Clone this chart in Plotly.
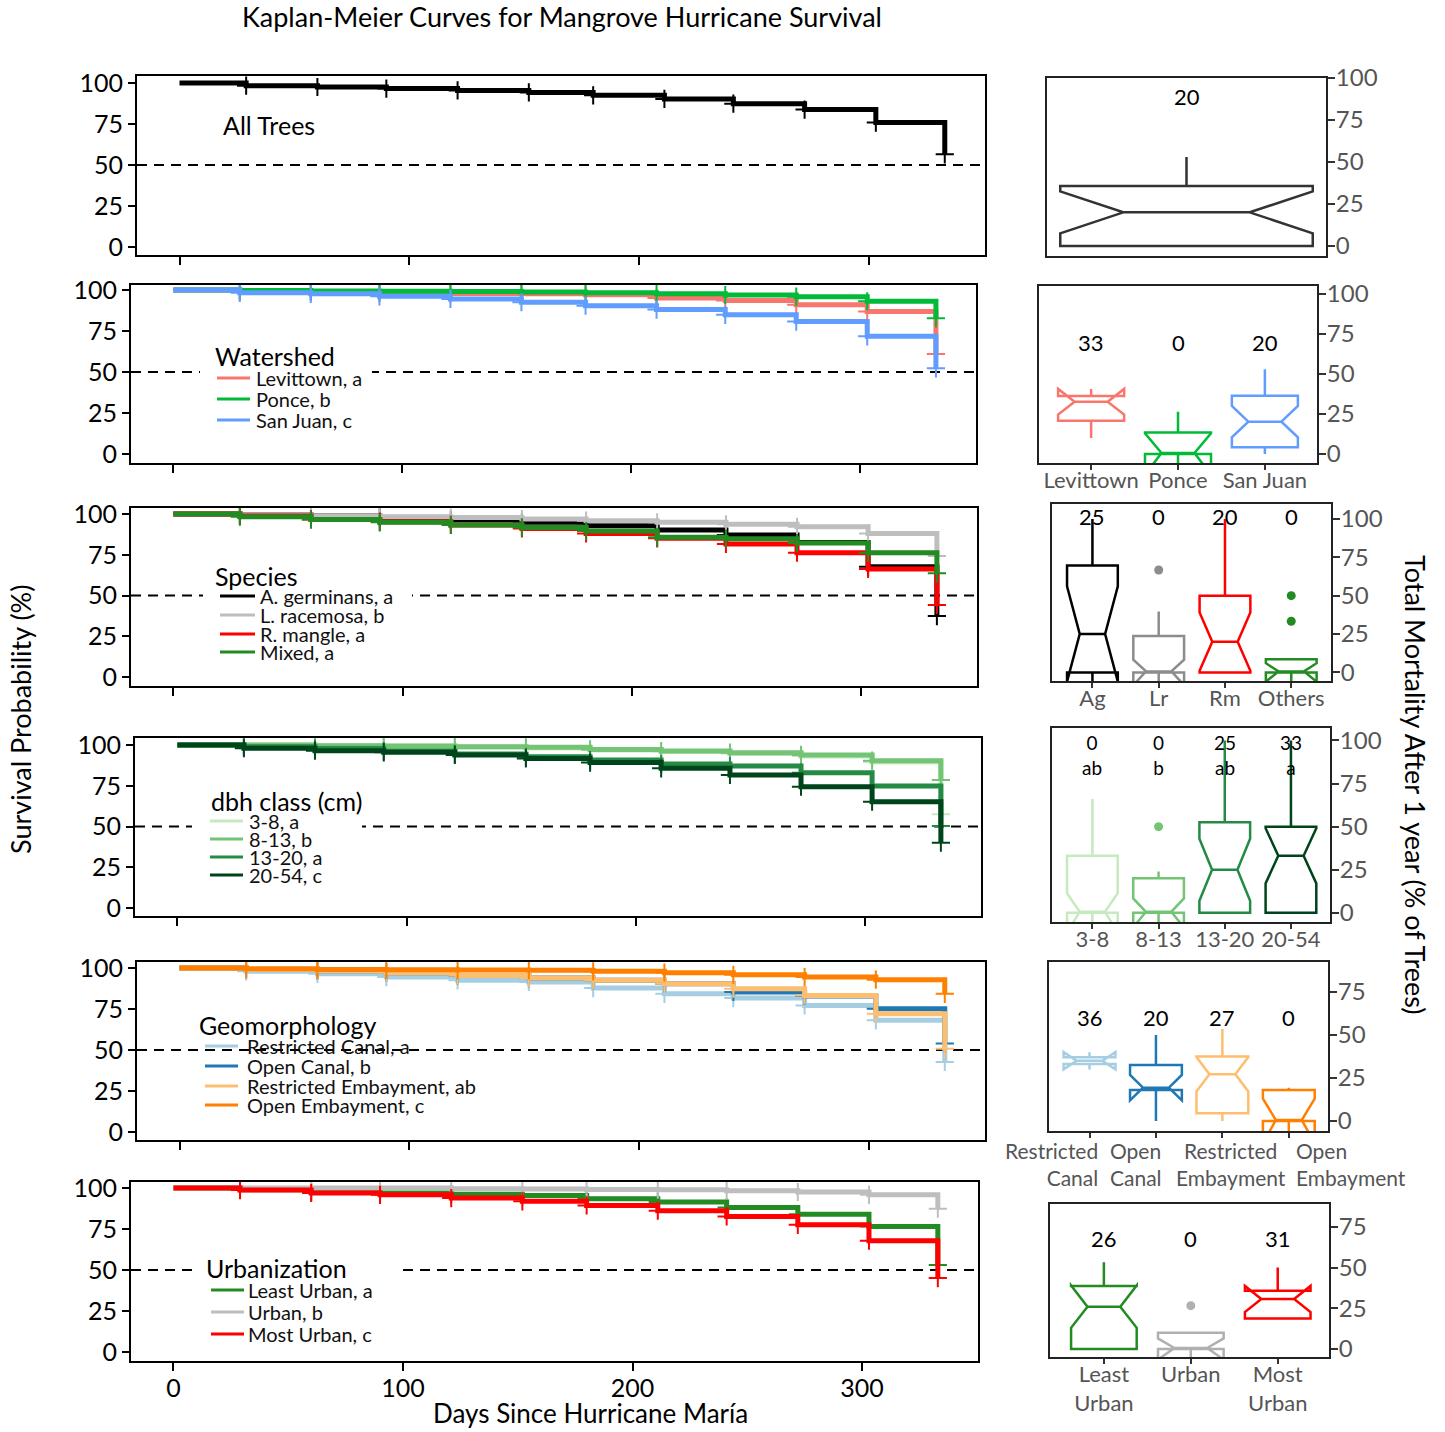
import plotly.graph_objects as go

W, H = 1445, 1432
FONT = "Lato"

# ---------------- Kaplan-Meier data ----------------
days = [0, 29, 60, 90, 121, 152, 180, 211, 241, 272, 303, 333]

all_names = ["All Trees"]
all_colors = ["#000000"]
all_surv = [[100, 98.4, 97.6, 96.6, 95.5, 94.3, 92.5, 90.3, 87.4, 83.8, 75.9, 56.5]]

ws_title = "Watershed"
ws_names = ["Levittown, a", "Ponce, b", "San Juan, c"]
ws_colors = ["#F8766D", "#00BA38", "#619CFF"]
ws_surv = [
    [100, 99.0, 98.6, 98.2, 97.8, 97.6, 97.0, 95.1, 93.5, 90.9, 86.8, 61.0],
    [100, 99.6, 99.4, 99.2, 99.0, 98.8, 98.2, 97.6, 96.9, 95.9, 93.1, 82.7],
    [100, 98.2, 97.6, 96.1, 94.5, 92.5, 90.4, 88.0, 84.8, 80.7, 71.7, 52.2],
]

sp_title = "Species"
sp_names = ["A. germinans, a", "L. racemosa, b", "R. mangle, a", "Mixed, a"]
sp_colors = ["#000000", "#BEBEBE", "#FF0000", "#228B22"]
sp_surv = [
    [100, 99.6, 99.0, 97.9, 96.3, 94.9, 92.8, 90.2, 87.1, 82.6, 67.7, 37.4],
    [100, 99.6, 99.0, 98.4, 97.8, 96.9, 95.9, 94.9, 93.7, 92.2, 88.1, 74.2],
    [100, 98.8, 96.7, 95.3, 93.3, 91.2, 88.1, 85.1, 81.6, 76.3, 66.3, 44.2],
    [100, 98.4, 96.7, 94.9, 93.3, 91.8, 89.6, 85.7, 84.9, 82.2, 76.3, 63.6],
]

dbh_title = "dbh class (cm)"
dbh_names = ["3-8, a", "8-13, b", "13-20, a", "20-54, c"]
dbh_colors = ["#C7E9C0", "#74C476", "#238B45", "#00441B"]
dbh_surv = [
    [100, 100, 99.6, 99.2, 98.8, 98.2, 97.0, 96.0, 94.8, 93.2, 89.5, 57.5],
    [100, 100, 99.6, 99.4, 99.0, 98.6, 97.3, 96.3, 95.3, 93.9, 90.4, 78.5],
    [100, 99.0, 97.8, 96.3, 94.5, 92.8, 90.8, 88.3, 87.1, 83.0, 74.8, 50.3],
    [100, 98.0, 96.5, 95.5, 93.9, 91.8, 89.2, 85.7, 81.6, 74.4, 65.2, 40.1],
]

geo_title = "Geomorphology"
geo_names = ["Restricted Canal, a", "Open Canal, b", "Restricted Embayment, ab", "Open Embayment, c"]
geo_colors = ["#A6CEE3", "#1F78B4", "#FDBF6F", "#FF7F00"]
geo_surv = [
    [100, 98.0, 96.5, 94.5, 92.5, 91.5, 87.8, 84.3, 81.7, 77.2, 68.1, 42.7],
    [100, 99.2, 98.4, 97.2, 95.5, 93.9, 92.5, 90.4, 85.4, 83.0, 75.2, 53.9],
    [100, 99.2, 98.4, 97.2, 95.5, 93.9, 92.5, 90.4, 87.4, 83.3, 72.2, 50.8],
    [100, 99.6, 99.2, 99.0, 98.8, 98.6, 98.0, 97.2, 95.9, 94.5, 92.9, 84.3],
]

urb_title = "Urbanization"
urb_names = ["Least Urban, a", "Urban, b", "Most Urban, c"]
urb_colors = ["#228B22", "#BEBEBE", "#FF0000"]
urb_surv = [
    [100, 99.0, 97.6, 97.0, 96.3, 95.5, 93.5, 91.5, 88.2, 84.1, 76.6, 53.0],
    [100, 100, 100, 100, 99.6, 99.4, 99.2, 99.0, 98.4, 97.6, 95.9, 87.4],
    [100, 98.8, 97.0, 95.9, 93.9, 91.9, 89.4, 86.2, 82.7, 77.6, 67.9, 45.1],
]

# ---------------- Box-plot data (total mortality after 1 year, %) ----------------
allb_cats = ["All"]
allb_colors = ["#333333"]
allb_q1, allb_med, allb_q3 = [0], [20], [35.7]
allb_lo, allb_hi, allb_notch = [0], [53], [12.5]
allb_pct = ["20"]
allb_out = [[]]

wsb_cats = ["Levittown", "Ponce", "San Juan"]
wsb_colors = ["#F8766D", "#00BA38", "#619CFF"]
wsb_q1, wsb_med, wsb_q3 = [20.8, 0, 4.2], [32.7, 0, 20.2], [36.3, 13.5, 36.4]
wsb_lo, wsb_hi, wsb_notch = [10, 0, 0], [39, 26.4, 53], [8, 13, 9.8]
wsb_pct = ["33", "0", "20"]
wsb_out = [[], [], []]

spb_cats = ["Ag", "Lr", "Rm", "Others"]
spb_colors = ["#000000", "#8C8C8C", "#FF0000", "#228B22"]
spb_q1, spb_med, spb_q3 = [0, 0, 0, 0], [25, 0, 20, 0], [69.7, 23.7, 50, 8.5]
spb_lo, spb_hi, spb_notch = [0, 0, 0, 0], [100, 39.6, 100, 8.5], [31, 8.3, 19, 6]
spb_pct = ["25", "0", "20", "0"]
spb_out = [[], [66.7], [], [50, 33.3]]

dbhb_cats = ["3-8", "8-13", "13-20", "20-54"]
dbhb_colors = ["#C7E9C0", "#74C476", "#238B45", "#00441B"]
dbhb_q1, dbhb_med, dbhb_q3 = [0, 0, 0, 0], [0, 0, 25, 33.1], [33.1, 20, 52.6, 50]
dbhb_lo, dbhb_hi, dbhb_notch = [0, 0, 0, 0], [66, 24, 100, 100], [11.4, 8.4, 18, 16]
dbhb_pct = ["0", "0", "25", "33"]
dbhb_sig = ["ab", "b", "ab", "a"]
dbhb_out = [[], [50], [], []]

geob_cats = ["Restricted<br>Canal", "Open<br>Canal", "Restricted<br>Embayment", "Open<br>Embayment"]
geob_colors = ["#A6CEE3", "#1F78B4", "#FDBF6F", "#FF7F00"]
geob_q1, geob_med, geob_q3 = [33.2, 18, 4.5, 0], [35, 19.4, 27.2, 0], [37.1, 32.6, 37.5, 18]
geob_lo, geob_hi, geob_notch = [30.7, 0, 0, 0], [39, 50, 53.4, 19.4], [5, 7.4, 10, 13]
geob_pct = ["36", "20", "27", "0"]
geob_out = [[], [], [], []]

urbb_cats = ["Least<br>Urban", "Urban", "Most<br>Urban"]
urbb_colors = ["#228B22", "#B0B0B0", "#FF0000"]
urbb_q1, urbb_med, urbb_q3 = [0, 0, 18.8], [26, 0, 30.7], [38.7, 10, 35.8]
urbb_lo, urbb_hi, urbb_notch = [0, 0, 18.8], [53.2, 10, 50], [13, 6.5, 8]
urbb_pct = ["26", "0", "31"]
urbb_out = [[], [26.6], []]

# ---------------- layout geometry (pixels) ----------------
km_frames = [(137, 985, 76, 255), (131, 976, 285, 463), (131, 977, 508, 686),
             (135, 981, 738, 916), (137, 985, 962, 1140), (131, 978, 1182, 1361)]
km_yranges = [[-4.9, 104.3], [-5.5, 103], [-5.5, 103.7], [-4.9, 104.3], [-4.9, 103.7], [-5.5, 103.7]]
km_xrange = [-18.5, 350.5]

box_frames = [(1047, 1326, 78, 256), (1039, 1317, 286, 463), (1052, 1331, 504, 681),
              (1052, 1330, 728, 922), (1049, 1328, 962, 1131), (1050, 1329, 1204, 1357)]
box_yranges = [[-6, 100], [-5.6, 105], [-5.6, 109.7], [-5.3, 107.2], [-5.8, 92.4], [-4.9, 89]]
box_xranges = [[-0.5, 0.5], [-0.6, 2.6], [-0.61, 3.6], [-0.61, 3.59], [-0.61, 3.59], [-0.62, 2.59]]
box_widths = [0.905, 0.76, 0.766, 0.766, 0.78, 0.755]
box_label_y = [89, 70, 101.7, 91.5, 60, 68]
# geomorphology category labels are staggered like the reference (x px, anchor)
geo_label_pos = [(1100, "right"), (1108, "left"), (1231, "center"), (1294, "left")]
geo_label_y = 1164

legend_specs = [
    None,
    dict(tx=213, ty=356, iy=[378, 399, 420], lx=(217, 250), txt=254, bg=(200, 372)),
    dict(tx=213, ty=576, iy=[596, 615, 634, 652], lx=(220, 255), txt=258, bg=(203, 412)),
    dict(tx=209, ty=801, iy=[821, 839, 857, 875], lx=(210, 243), txt=247, bg=(192, 362)),
    dict(tx=197, ty=1025, iy=[1046, 1066, 1086, 1105], lx=(205, 238), txt=245, bg=None),
    dict(tx=204, ty=1268, iy=[1290, 1312, 1334], lx=(211, 244), txt=246, bg=(194, 397)),
]


def px(x):
    return x / W


def py(y):
    return 1 - y / H


km_groups = [
    (None, all_names, all_colors, all_surv),
    (ws_title, ws_names, ws_colors, ws_surv),
    (sp_title, sp_names, sp_colors, sp_surv),
    (dbh_title, dbh_names, dbh_colors, dbh_surv),
    (geo_title, geo_names, geo_colors, geo_surv),
    (urb_title, urb_names, urb_colors, urb_surv),
]

box_groups = [
    (allb_cats, allb_colors, allb_q1, allb_med, allb_q3, allb_lo, allb_hi, allb_notch, allb_pct, None, allb_out),
    (wsb_cats, wsb_colors, wsb_q1, wsb_med, wsb_q3, wsb_lo, wsb_hi, wsb_notch, wsb_pct, None, wsb_out),
    (spb_cats, spb_colors, spb_q1, spb_med, spb_q3, spb_lo, spb_hi, spb_notch, spb_pct, None, spb_out),
    (dbhb_cats, dbhb_colors, dbhb_q1, dbhb_med, dbhb_q3, dbhb_lo, dbhb_hi, dbhb_notch, dbhb_pct, dbhb_sig, dbhb_out),
    (geob_cats, geob_colors, geob_q1, geob_med, geob_q3, geob_lo, geob_hi, geob_notch, geob_pct, None, geob_out),
    (urbb_cats, urbb_colors, urbb_q1, urbb_med, urbb_q3, urbb_lo, urbb_hi, urbb_notch, urbb_pct, None, urbb_out),
]

fig = go.Figure()
layout = dict(
    width=W, height=H, margin=dict(l=0, r=0, t=0, b=0, pad=0, autoexpand=False),
    paper_bgcolor="white", plot_bgcolor="white", showlegend=False,
    font=dict(family=FONT, color="black"),
)
shapes = []
annotations = []


def ann(text, x, y, size, color="black", xanchor="center", yanchor="middle", **kw):
    d = dict(text=text, xref="paper", yref="paper", x=px(x), y=py(y), showarrow=False,
             xanchor=xanchor, yanchor=yanchor, font=dict(size=size, color=color, family=FONT))
    d.update(kw)
    return d


# ---------------- Kaplan-Meier panels ----------------
for i, (title, names, colors, surv) in enumerate(km_groups):
    k = i + 1
    xs = "x" if k == 1 else f"x{k}"
    ys = "y" if k == 1 else f"y{k}"
    xk = "xaxis" if k == 1 else f"xaxis{k}"
    yk = "yaxis" if k == 1 else f"yaxis{k}"
    l, r, t, b = km_frames[i]
    layout[xk] = dict(
        domain=[px(l), px(r)], range=km_xrange, anchor=ys, automargin=False,
        tickvals=[0, 100, 200, 300], ticks="outside", ticklen=8, tickwidth=2,
        tickcolor="black", showline=True, linewidth=2, linecolor="black", mirror=True,
        showgrid=False, zeroline=False, showticklabels=(k == 6), ticklabelstandoff=-4,
        tickfont=dict(size=25, color="black", family=FONT),
    )
    layout[yk] = dict(
        domain=[py(b), py(t)], range=km_yranges[i], anchor=xs, automargin=False,
        tickvals=[0, 25, 50, 75, 100], ticks="outside", ticklen=7, tickwidth=2,
        tickcolor="black", showline=True, linewidth=2, linecolor="black", mirror=True,
        showgrid=False, zeroline=False,
        tickfont=dict(size=25, color="black", family=FONT),
    )
    # 50% reference line
    shapes.append(dict(type="line", xref=f"{xs} domain", yref=ys, x0=0, x1=1, y0=50, y1=50,
                       line=dict(color="black", width=2, dash="10px,7px"), layer="below"))
    for name, c, s in zip(names, colors, surv):
        fig.add_trace(go.Scatter(x=days, y=s, mode="lines", name=name,
                                 line=dict(color=c, width=5, shape="hv"),
                                 xaxis=xs, yaxis=ys, hoverinfo="skip"))
        fig.add_trace(go.Scatter(x=days[1:], y=s[1:], mode="markers", name=name,
                                 marker=dict(symbol="cross-thin", size=13, color=c,
                                             line=dict(color=c, width=2)),
                                 xaxis=xs, yaxis=ys, hoverinfo="skip"))
    spec = legend_specs[i]
    if spec is None:
        annotations.append(ann(names[0], 269, 125, 25))
        continue
    if spec["bg"] is not None:
        shapes.append(dict(type="rect", xref="paper", yref="paper",
                           x0=px(spec["bg"][0]), x1=px(spec["bg"][1]),
                           y0=py(spec["iy"][-1] + 10), y1=py(spec["ty"] - 14),
                           fillcolor="white", line=dict(width=0), layer="above"))
    annotations.append(ann(title, spec["tx"], spec["ty"], 25, xanchor="left"))
    for name, c, yy in zip(names, colors, spec["iy"]):
        shapes.append(dict(type="line", xref="paper", yref="paper",
                           x0=px(spec["lx"][0]), x1=px(spec["lx"][1]), y0=py(yy), y1=py(yy),
                           line=dict(color=c, width=3), layer="above"))
        annotations.append(ann(name, spec["txt"], yy, 20, color="#111111", xanchor="left"))

# ---------------- Box-plot panels ----------------
for i, (cats, colors, q1, med, q3, lo, hi, notch, pct, sig, outs) in enumerate(box_groups):
    k = i + 7
    xs, ys = f"x{k}", f"y{k}"
    l, r, t, b = box_frames[i]
    layout[f"xaxis{k}"] = dict(
        domain=[px(l), px(r)], range=box_xranges[i], anchor=ys, type="category", automargin=False,
        categoryorder="array", categoryarray=cats, tickangle=0,
        ticks="outside" if i > 0 else "", ticklen=5, tickwidth=2, tickcolor="#333333",
        showticklabels=(i > 0 and i != 4), ticklabelstandoff=-8,
        showline=True, linewidth=2, linecolor="#222222", mirror=True,
        showgrid=False, zeroline=False,
        tickfont=dict(size=22, color="#555555", family=FONT),
    )
    yt = [0, 25, 50, 75, 100] if box_yranges[i][1] >= 100 else [0, 25, 50, 75]
    layout[f"yaxis{k}"] = dict(
        domain=[py(b), py(t)], range=box_yranges[i], anchor=xs, side="right", automargin=False,
        tickvals=yt, ticks="outside", ticklen=7, tickwidth=2, tickcolor="#333333",
        showline=True, linewidth=2, linecolor="#222222", mirror=True,
        showgrid=False, zeroline=False, ticklabelstandoff=-4,
        tickfont=dict(size=24, color="#555555", family=FONT),
    )
    for j, cat in enumerate(cats):
        fig.add_trace(go.Box(
            x=[cat], q1=[q1[j]], median=[med[j]], q3=[q3[j]],
            lowerfence=[lo[j]], upperfence=[hi[j]], notchspan=[notch[j]],
            notched=True, notchwidth=0.25, width=box_widths[i], whiskerwidth=0,
            line=dict(color=colors[j], width=2.5), fillcolor="rgba(0,0,0,0)",
            boxpoints=False, xaxis=xs, yaxis=ys, hoverinfo="skip", name=cat,
        ))
        if outs[j]:
            fig.add_trace(go.Scatter(
                x=[cat] * len(outs[j]), y=outs[j], mode="markers",
                marker=dict(symbol="circle", size=9, color=colors[j]),
                xaxis=xs, yaxis=ys, hoverinfo="skip", name=cat,
            ))
        if sig is None:
            annotations.append(dict(text=pct[j], xref=xs, yref=ys, x=cat, y=box_label_y[i],
                                    showarrow=False, xanchor="center", yanchor="middle",
                                    font=dict(size=22, color="black", family=FONT)))
        else:
            annotations.append(dict(text=f"{pct[j]}<br>{sig[j]}", xref=xs, yref=ys, x=cat,
                                    y=box_label_y[i], showarrow=False, xanchor="center",
                                    yanchor="middle", font=dict(size=19, color="black", family=FONT)))
    if i == 4:
        for cat, (gx, anc) in zip(cats, geo_label_pos):
            annotations.append(ann(cat, gx, geo_label_y, 21, color="#555555", xanchor=anc, align=anc))

# ---------------- titles ----------------
annotations.append(ann("Kaplan-Meier Curves for Mangrove Hurricane Survival", 562, 17, 27))
annotations.append(ann("Survival Probability (%)", 20, 720, 27, textangle=-90))
annotations.append(ann("Days Since Hurricane María", 590, 1413, 26))
annotations.append(ann("Total Mortality After 1 year (% of Trees)", 1416, 785, 27, textangle=90))

layout["shapes"] = shapes
layout["annotations"] = annotations
fig.update_layout(**layout)
fig.write_html("out.html")
